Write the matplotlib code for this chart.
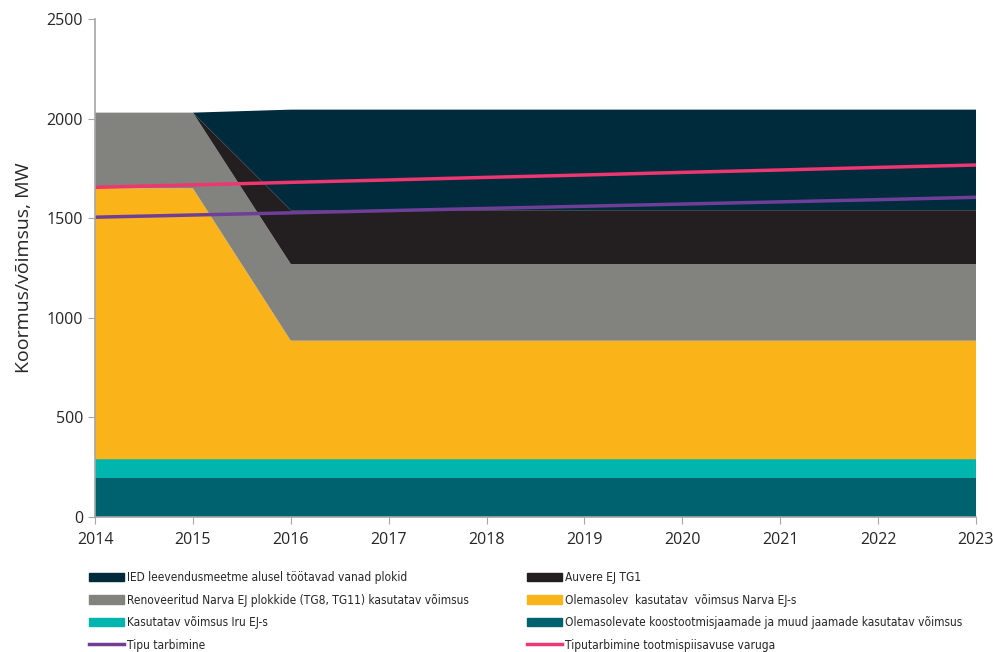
import matplotlib.pyplot as plt
from matplotlib.patches import Patch
from matplotlib.lines import Line2D
from matplotlib import font_manager

years = [2014, 2015, 2016, 2017, 2018, 2019, 2020, 2021, 2022, 2023]

# stacked capacities, MW (bottom to top)
koostootmine = [195, 195, 195, 195, 195, 195, 195, 195, 195, 195]
iru = [95, 95, 95, 95, 95, 95, 95, 95, 95, 95]
narva_olemasolev = [1360, 1360, 595, 595, 595, 595, 595, 595, 595, 595]
narva_renoveeritud = [380, 380, 385, 385, 385, 385, 385, 385, 385, 385]
auvere = [0, 0, 270, 270, 270, 270, 270, 270, 270, 270]
ied = [0, 0, 505, 505, 505, 505, 505, 505, 505, 505]

# demand lines, MW
tipu_tarbimine = [1505, 1516, 1527, 1538, 1549, 1560, 1571, 1582, 1593, 1605]
tipu_varuga = [1655, 1667, 1680, 1692, 1705, 1717, 1730, 1742, 1755, 1767]

lbl_ied = "IED leevendusmeetme alusel töötavad vanad plokid"
lbl_auvere = "Auvere EJ TG1"
lbl_renov = "Renoveeritud Narva EJ plokkide (TG8, TG11) kasutatav võimsus"
lbl_narva = "Olemasolev  kasutatav  võimsus Narva EJ-s"
lbl_iru = "Kasutatav võimsus Iru EJ-s"
lbl_koost = "Olemasolevate koostootmisjaamade ja muud jaamade kasutatav võimsus"
lbl_tipu = "Tipu tarbimine"
lbl_varu = "Tiputarbimine tootmispiisavuse varuga"

c_koost = "#00626f"
c_iru = "#00b5ad"
c_narva = "#fbb31a"
c_renov = "#82827e"
c_auvere = "#231f20"
c_ied = "#002b3d"
c_tipu = "#6f3f98"
c_varu = "#ee3670"

# a condensed face for the legend if one is around
cond = font_manager.FontProperties(family='DejaVu Sans', stretch='condensed')
cond_file = font_manager.findfont(cond)
if 'Condensed' in cond_file:
    leg_prop = font_manager.FontProperties(fname=cond_file, size=8.6)
else:
    leg_prop = font_manager.FontProperties(family='Liberation Sans', size=8.0)

plt.rcParams['font.family'] = ["Open Sans", "DejaVu Sans"]

fig = plt.figure(figsize=(9.93, 6.52), dpi=100)
ax = fig.add_axes([95/993, 1 - 517/652, (976-95)/993, (517-19)/652])

ax.stackplot(years, koostootmine, iru, narva_olemasolev, narva_renoveeritud, auvere, ied,
             colors=[c_koost, c_iru, c_narva, c_renov, c_auvere, c_ied],
             edgecolor='none', linewidth=0)
ax.plot(years, tipu_tarbimine, color=c_tipu, lw=2.5)
ax.plot(years, tipu_varuga, color=c_varu, lw=2.5)

ax.set_xlim(2014, 2023)
ax.set_ylim(0, 2500)
ax.set_xticks(years)
ax.set_yticks(range(0, 2501, 500))
ax.tick_params(axis='both', labelsize=11.5, colors='#262626', direction='out', length=5)
ax.tick_params(axis='both', color='#a6a6a6')
ax.tick_params(axis='x', pad=6)
for s in ['top', 'right']:
    ax.spines[s].set_visible(False)
for s in ['left', 'bottom']:
    ax.spines[s].set_color('#a6a6a6')
    ax.spines[s].set_linewidth(1.2)
ax.set_ylabel("Koormus/võimsus, MW", fontsize=14, color='#262626', labelpad=10)

left_handles = [Patch(color=c_ied), Patch(color=c_renov), Patch(color=c_iru),
                Line2D([], [], color=c_tipu, lw=2.5)]
left_labels = [lbl_ied, lbl_renov, lbl_iru, lbl_tipu]
right_handles = [Patch(color=c_auvere), Patch(color=c_narva), Patch(color=c_koost),
                 Line2D([], [], color=c_varu, lw=2.5)]
right_labels = [lbl_auvere, lbl_narva, lbl_koost, lbl_varu]

leg_kw = dict(frameon=False, prop=leg_prop, handlelength=2.9,
              handleheight=0.7, handletextpad=0.25, labelspacing=0.8, borderpad=0,
              borderaxespad=0, loc='upper left')
leg1 = fig.legend(left_handles, left_labels, bbox_to_anchor=(89/993, 1 - 571/652), **leg_kw)
leg2 = fig.legend(right_handles, right_labels, bbox_to_anchor=(527/993, 1 - 571/652), **leg_kw)
for leg in (leg1, leg2):
    for t in leg.get_texts():
        t.set_color('#262626')

fig.savefig("out.png", dpi=100)
